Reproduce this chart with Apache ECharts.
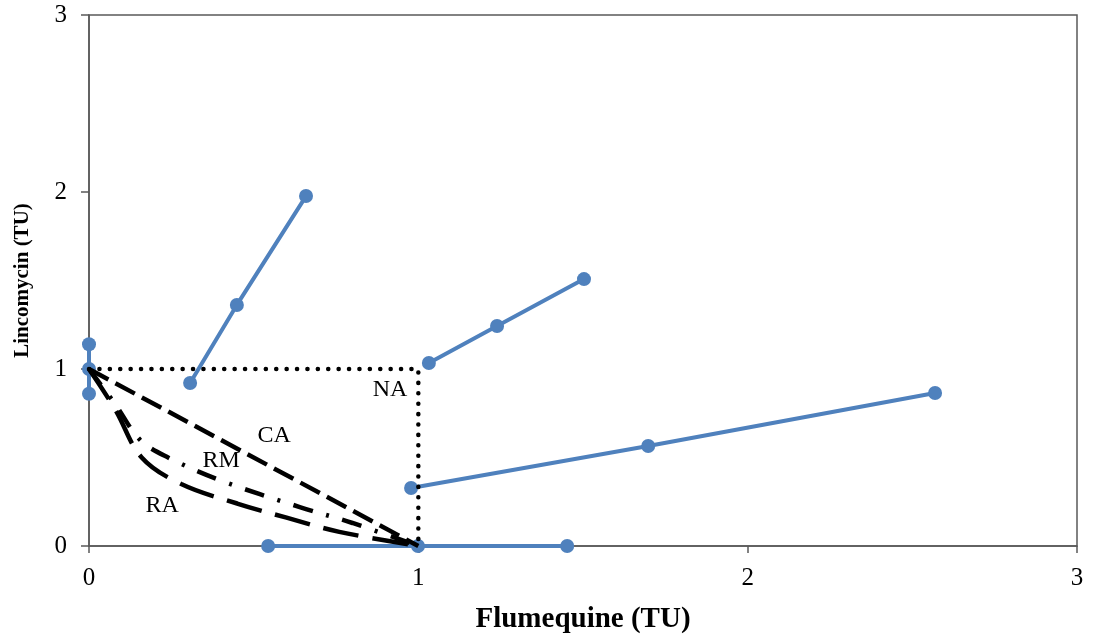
<!DOCTYPE html>
<html>
<head>
<meta charset="utf-8">
<script src="https://cdn.jsdelivr.net/npm/echarts@6/dist/echarts.min.js"></script>
<style>
html,body{margin:0;padding:0;background:#fff;}
#chart{width:1093px;height:642px;}
</style>
</head>
<body>
<div id="chart"></div>
<script>
// ---- data ----
const xAxisName = 'Flumequine (TU)';
const yAxisName = 'Lincomycin (TU)';
const seriesA = [[0, 1.14], [0, 1.0], [0, 0.86]];
const seriesB = [[0.307, 0.921], [0.449, 1.362], [0.659, 1.977]];
const seriesC = [[1.032, 1.034], [1.239, 1.243], [1.503, 1.508]];
const seriesD = [[0.978, 0.328], [1.698, 0.565], [2.569, 0.864]];
const seriesE = [[0.544, 0], [0.999, 0], [1.452, 0]];
const naLine = [[0, 1], [1, 1], [1, 0]];
const caLine = [[0, 1], [1, 0]];
const rmLine = [[0, 1], [0.08, 0.8], [0.155, 0.6], [0.24, 0.5], [0.4, 0.37], [0.64, 0.22], [0.8, 0.13], [1, 0]];
const raLine = [[0, 1], [0.08, 0.77], [0.16, 0.5], [0.28, 0.35], [0.45, 0.24], [0.6, 0.16], [0.76, 0.08], [1, 0]];
const annotationNames = ['NA', 'CA', 'RM', 'RA'];
const annotationX = [0.914, 0.562, 0.401, 0.222];
const annotationY = [0.881, 0.621, 0.480, 0.226];

// ---- chart ----
const FONT = '"Liberation Serif", "Times New Roman", serif';
const BLUE = '#4F81BD';
const AXIS = '#595959';
const chart = echarts.init(document.getElementById('chart'), null, {renderer: 'canvas'});

function blueSeries(name, data) {
  return {
    name: name, type: 'line', data: data, clip: false,
    symbol: 'circle', symbolSize: 14, showSymbol: true,
    itemStyle: {color: BLUE},
    lineStyle: {color: BLUE, width: 4},
    z: 2, animation: false
  };
}
function blackSeries(name, data, dash, smooth, width, cap) {
  return {
    name: name, type: 'line', data: data, clip: false,
    symbol: 'none', smooth: smooth || false,
    lineStyle: {color: '#000', width: width || 4, type: dash, cap: cap || 'butt'},
    z: 3, animation: false
  };
}

const annData = annotationNames.map((n, i) => ({value: [annotationX[i], annotationY[i]], name: n}));

chart.setOption({
  animation: false,
  grid: {left: 89, right: 16, top: 15, bottom: 96, show: true, borderColor: AXIS, borderWidth: 1.5, containLabel: false},
  xAxis: {
    type: 'value', min: 0, max: 3, interval: 1,
    name: xAxisName, nameLocation: 'middle', nameGap: 59,
    nameTextStyle: {fontFamily: FONT, fontWeight: 'bold', fontSize: 29, color: '#000'},
    axisLine: {show: true, lineStyle: {color: AXIS, width: 1.5}},
    axisTick: {show: true, length: 7, lineStyle: {color: AXIS, width: 1.5}},
    axisLabel: {fontFamily: FONT, fontSize: 25, color: '#000', margin: 20},
    splitLine: {show: false}
  },
  yAxis: {
    type: 'value', min: 0, max: 3, interval: 1,
    name: yAxisName, nameLocation: 'middle', nameGap: 56,
    nameTextStyle: {fontFamily: FONT, fontWeight: 'bold', fontSize: 21, color: '#000'},
    axisLine: {show: true, lineStyle: {color: AXIS, width: 1.5}},
    axisTick: {show: true, length: 8, lineStyle: {color: AXIS, width: 1.5}},
    axisLabel: {fontFamily: FONT, fontSize: 25, color: '#000', margin: 22},
    splitLine: {show: false}
  },
  series: [
    blueSeries('A', seriesA),
    blueSeries('B', seriesB),
    blueSeries('C', seriesC),
    blueSeries('D', seriesD),
    blueSeries('E', seriesE),
    blackSeries('NA', naLine, [0.1, 10.3], false, 4.5, 'round'),
    blackSeries('CA', caLine, [22, 8], false, 4.5),
    blackSeries('RM', rmLine, [20, 14, 3, 14], 0.35, 4.5),
    blackSeries('RA', raLine, [36, 14], 0.35, 4.5),
    {
      type: 'scatter', data: annData, symbolSize: 0, clip: false, z: 4,
      itemStyle: {opacity: 1, color: '#000'},
      label: {show: true, position: [0, 0], align: 'center', verticalAlign: 'middle',
              formatter: p => p.name, opacity: 1,
              fontFamily: FONT, fontSize: 24, color: '#000', textBorderWidth: 0},
      animation: false
    }
  ]
});
</script>
</body>
</html>
